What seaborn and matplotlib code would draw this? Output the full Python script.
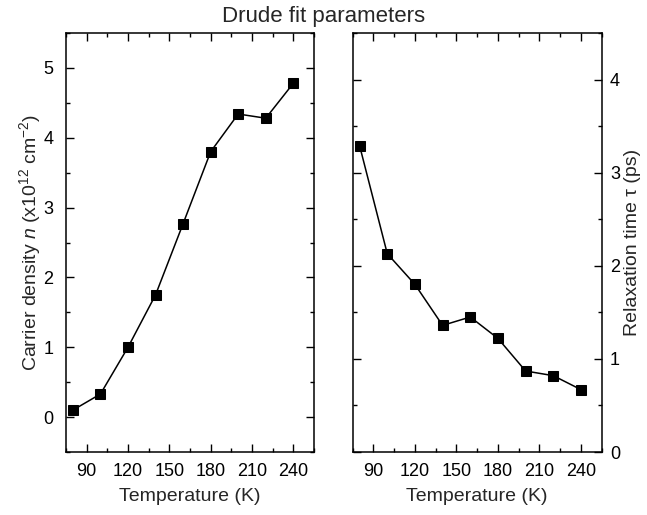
import matplotlib
matplotlib.use("Agg")
import matplotlib.pyplot as plt
from matplotlib.ticker import MultipleLocator
import seaborn as sns
import pandas as pd

# Drude fit results versus temperature
temperature = [80, 100, 120, 140, 160, 180, 200, 220, 240]
carrier_density = [0.10, 0.33, 1.00, 1.75, 2.77, 3.80, 4.34, 4.28, 4.78]
relaxation_time = [3.29, 2.13, 1.80, 1.36, 1.45, 1.22, 0.87, 0.82, 0.67]

df = pd.DataFrame({"T": temperature, "n": carrier_density, "tau": relaxation_time})

sns.set_theme(style="ticks")
plt.rcParams["font.family"] = ["Liberation Sans", "DejaVu Sans"]
plt.rcParams["mathtext.fontset"] = "custom"
plt.rcParams["mathtext.rm"] = "Liberation Sans"
plt.rcParams["mathtext.it"] = "Liberation Sans:italic"
plt.rcParams["mathtext.sf"] = "Liberation Sans"

fig = plt.figure(figsize=(6.47, 5.15), dpi=100)
ax1 = fig.add_axes([0.102, 0.1223, 0.3833, 0.8136])
ax2 = fig.add_axes([0.5451, 0.1223, 0.3849, 0.8136])

style = dict(marker="s", color="black", markersize=7.5, linewidth=1.1,
             markeredgecolor="black", markerfacecolor="black")
sns.lineplot(data=df, x="T", y="n", ax=ax1, **style)
sns.lineplot(data=df, x="T", y="tau", ax=ax2, **style)

for ax in (ax1, ax2):
    ax.set_xlim(75, 255)
    ax.xaxis.set_major_locator(MultipleLocator(30))
    ax.xaxis.set_minor_locator(MultipleLocator(15))
    ax.tick_params(which="both", direction="in", top=True, right=True,
                   colors="black", labelsize=13, width=1)
    ax.tick_params(which="major", length=6)
    ax.tick_params(which="minor", length=3)
    ax.tick_params(axis="x", which="major", pad=8)
    for s in ax.spines.values():
        s.set_linewidth(1.1)
        s.set_color("black")
    ax.set_xlabel("Temperature (K)", fontsize=14, labelpad=6)
    ax.grid(False)

ax1.set_ylim(-0.5, 5.5)
ax1.yaxis.set_major_locator(MultipleLocator(1))
ax1.yaxis.set_minor_locator(MultipleLocator(0.5))
ax1.tick_params(axis="y", which="major", pad=9)
ax1.set_ylabel(r"Carrier density $n$ (x10$^{12}$ cm$^{-2}$)", fontsize=14, labelpad=0)

ax2.set_ylim(0, 4.5)
ax2.yaxis.set_major_locator(MultipleLocator(1))
ax2.yaxis.set_minor_locator(MultipleLocator(0.5))
ax2.yaxis.tick_right()
ax2.tick_params(which="both", left=True, right=True, labelleft=False, labelright=True)
ax2.tick_params(axis="y", which="major", pad=6)
ax2.yaxis.set_label_position("right")
ax2.set_ylabel("Relaxation time τ (ps)", fontsize=14, labelpad=3)

fig.suptitle("Drude fit parameters", x=0.5, y=1 - 6 / 515, va="top", fontsize=16)

fig.savefig("out.png", dpi=100)
